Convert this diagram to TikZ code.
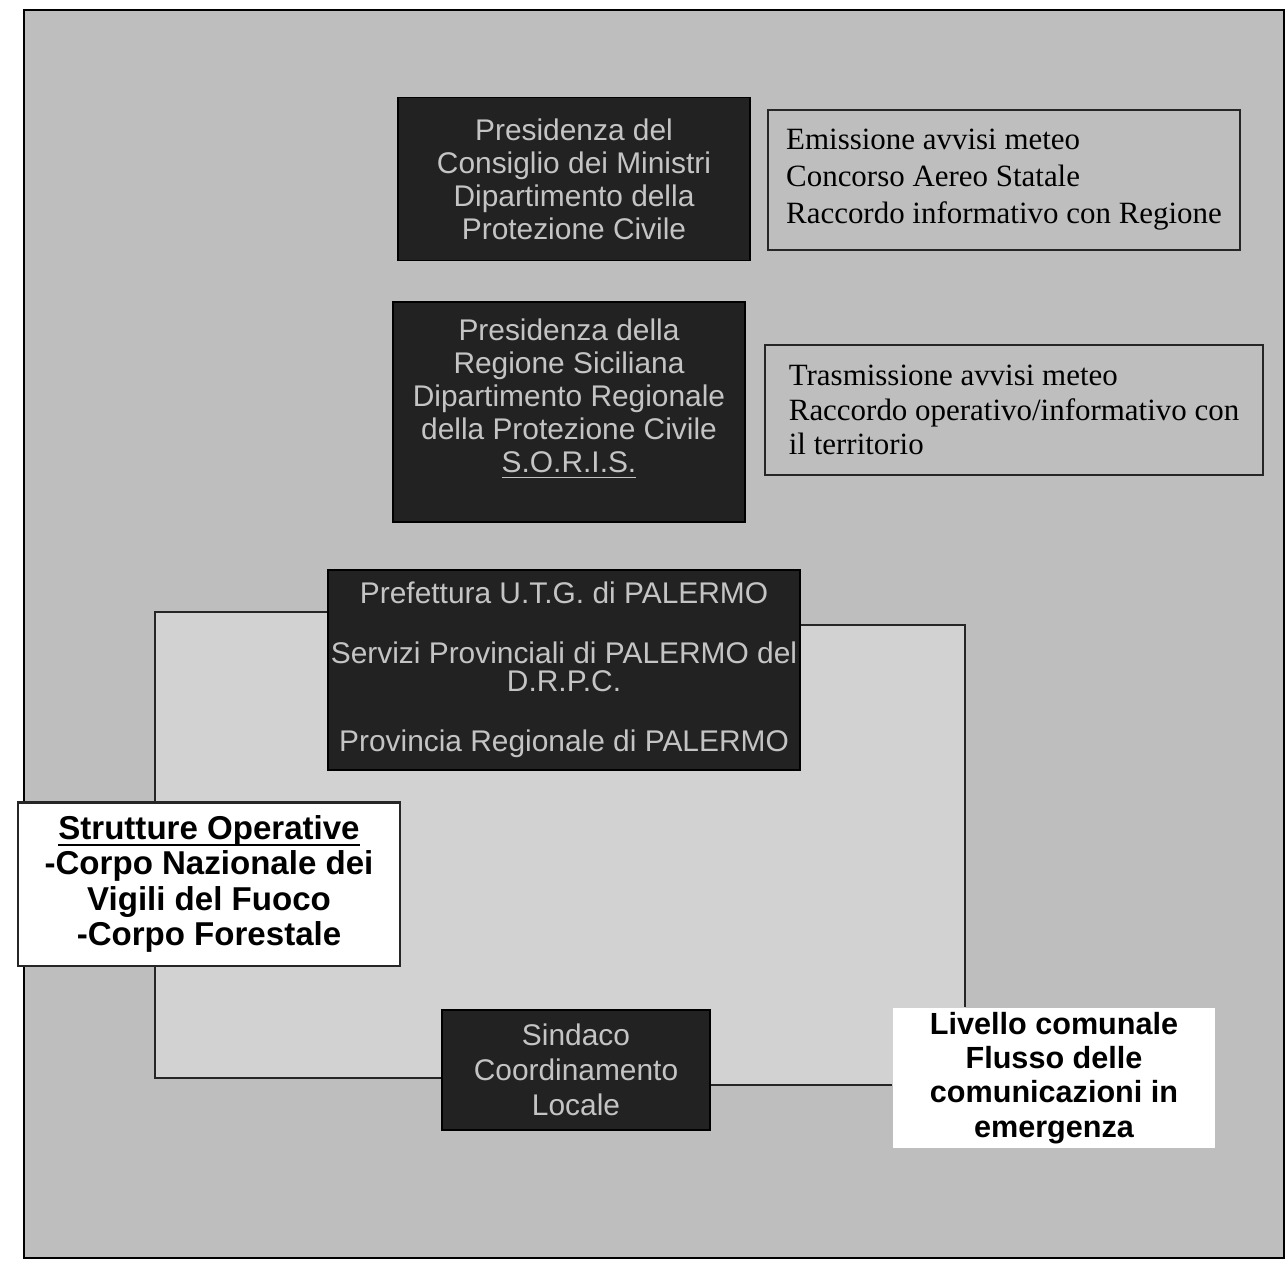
\documentclass[tikz,border=0pt]{standalone}
\usepackage{fontspec}
\setmainfont{Liberation Serif}
\setsansfont{Liberation Sans}
\usetikzlibrary{backgrounds}
\definecolor{scanGray}{HTML}{BEBEBE}
\definecolor{scanLight}{HTML}{D2D2D2}
\definecolor{boxDark}{HTML}{222222}
\definecolor{outlineText}{HTML}{C4C4C4}

\begin{document}
\begin{tikzpicture}[x=0.01cm, y=-0.01cm,
    darkbox/.style={fill=boxDark, draw=black, text=outlineText, align=center, inner sep=0pt,
      font=\sffamily\fontsize{8.5}{9.4}\selectfont},
    notebox/.style={draw=black!85, line width=0.6pt, align=left, inner sep=0pt,
      font=\fontsize{8.8}{10.5}\selectfont},
    whitebox/.style={fill=white, align=center, inner sep=0pt,
      font=\sffamily\bfseries\fontsize{9.4}{10}\selectfont},
    linkline/.style={draw=black!85, line width=0.6pt}]
  \useasboundingbox (0,0) rectangle (1288,1275);

  % national and regional level
  \node[darkbox, minimum width=3.52cm, minimum height=1.63cm] (pcm) at (574,179)
    {Presidenza del\\Consiglio dei Ministri\\Dipartimento della\\Protezione Civile};
  \node[notebox, minimum width=4.71cm, minimum height=1.40cm] (pcmnote) at (1004,180)
    {Emissione avvisi meteo\\Concorso Aereo Statale\\Raccordo informativo con Regione};
  \node[darkbox, minimum width=3.52cm, minimum height=2.20cm] (regione) at (569,412)
    {Presidenza della\\Regione Siciliana\\Dipartimento Regionale\\della Protezione Civile\\\underline{S.O.R.I.S.}\\\mbox{}};
  \node[notebox, font=\fontsize{8.8}{9.7}\selectfont, minimum width=4.98cm, minimum height=1.30cm] (regionenote) at (1014,410)
    {Trasmissione avvisi meteo\\Raccordo operativo/informativo con\\il territorio};

  % provincial and local level
  \node[darkbox, font=\sffamily\fontsize{8.5}{8}\selectfont, minimum width=4.72cm, minimum height=2.00cm] (prefettura) at (564,670)
    {Prefettura U.T.G. di PALERMO\\[9pt]Servizi Provinciali di PALERMO del\\D.R.P.C.\\[9pt]Provincia Regionale di PALERMO};
  \node[whitebox, draw=black!85, line width=0.6pt, minimum width=3.82cm, minimum height=1.63cm] (strutture) at (209,884)
    {\underline{Strutture O\smash{p}erative}\\-Corpo Nazionale dei\\Vigili del Fuoco\\-Corpo Forestale};
  \node[darkbox, font=\sffamily\fontsize{8.5}{10}\selectfont, minimum width=2.68cm, minimum height=1.20cm] (sindaco) at (576,1070)
    {Sindaco\\Coordinamento\\Locale};
  \node[whitebox, font=\sffamily\bfseries\fontsize{8.7}{9.7}\selectfont, minimum width=3.22cm, minimum height=1.40cm] (livello) at (1054,1078)
    {Livello comunale\\Flusso delle\\comunicazioni in\\emergenza};

  \begin{pgfonlayer}{background}
    \fill[scanGray] (24,10) rectangle (1284,1258);
    \draw[line width=0.7pt] (24,10) rectangle (1284,1258);
    \fill[scanLight] (155,612) -- (564,612) -- (564,625) -- (965,625) -- (965,1085)
      -- (576,1085) -- (576,1078) -- (155,1078) -- cycle;
    % communication loop
    \draw[linkline] (prefettura.west |- {(0,612)}) -- (155,612) -- (155,1078) -- (sindaco.west |- {(0,1078)});
    \draw[linkline] (prefettura.east |- {(0,625)}) -- (965,625) -- (livello.north -| {(965,0)});
    \draw[linkline] (sindaco.east |- {(0,1085)}) -- (livello.west |- {(0,1085)});
  \end{pgfonlayer}
\end{tikzpicture}
\end{document}
